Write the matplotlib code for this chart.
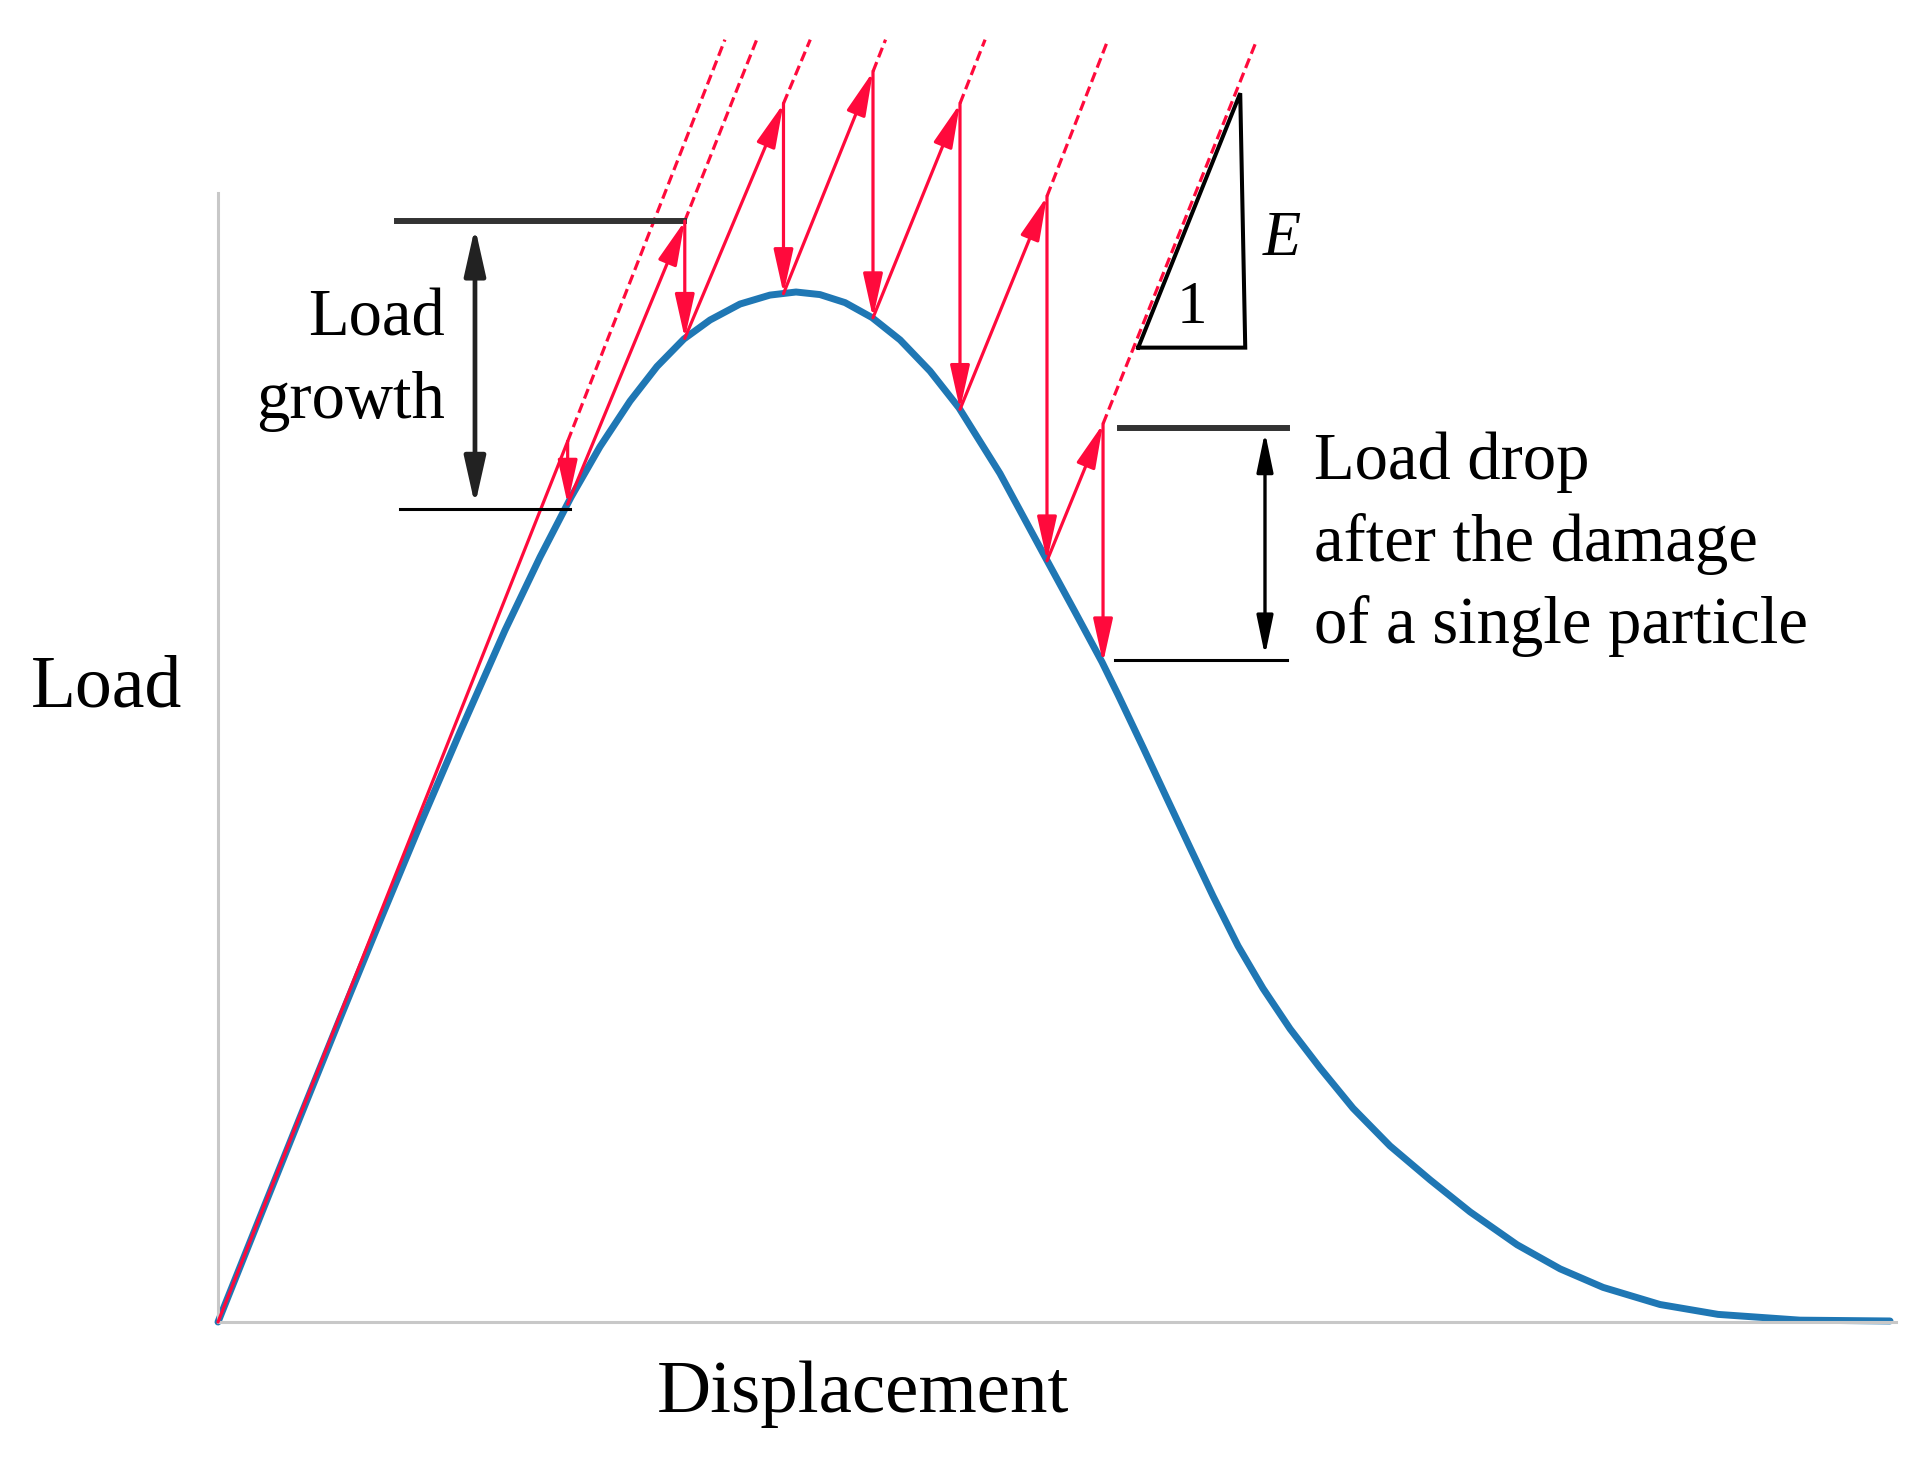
import matplotlib
matplotlib.use("Agg")
import matplotlib.pyplot as plt
from matplotlib.patches import FancyArrowPatch

# ---------------- data (arbitrary units) ----------------
# blue load-displacement curve
curve_disp = [0.00, 2.51, 4.90, 7.29, 9.68, 12.07, 14.47, 17.15, 19.25, 21.10,
              22.83, 24.63, 26.24, 27.85, 29.41, 31.20, 32.99, 34.55, 35.98, 37.48,
              39.09, 40.77, 42.56, 44.29, 46.74, 49.49, 51.23, 52.84, 53.80, 55.29,
              56.72, 58.10, 59.47, 60.97, 62.46, 64.08, 65.87, 67.84, 70.05, 72.45,
              74.84, 77.65, 80.22, 82.79, 86.19, 89.66, 94.56, 99.94]
curve_load = [0.00, 10.19, 19.86, 29.46, 38.93, 48.25, 57.30, 67.14, 74.27, 80.08,
              84.98, 89.41, 92.77, 95.44, 97.28, 98.83, 99.70, 100.00, 99.75, 98.97,
              97.52, 95.35, 92.32, 88.75, 82.38, 74.12, 68.93, 64.07, 60.89, 55.80,
              50.83, 46.06, 41.37, 36.51, 32.39, 28.46, 24.67, 20.76, 17.10, 13.80,
              10.69, 7.50, 5.16, 3.36, 1.70, 0.74, 0.18, 0.10]

# red saw-tooth path (elastic loading + load drops)
saw_disp = [0.0, 20.9, 20.9, 27.9, 27.9, 33.8, 33.8, 39.15, 39.15, 44.35, 44.35,
            49.55, 49.55, 52.9, 52.9]
saw_load = [0.0, 85.5, 79.4, 106.9, 95.5, 118.3, 99.85, 121.4, 97.5, 118.3, 88.6,
            109.3, 73.9, 87.2, 64.0]

# dashed elastic extensions: end points at the top
ext_end_disp = [30.3, 32.2, 35.4, 39.9, 45.85, 53.2, 62.1]
ext_end_load = [124.5, 124.5, 124.5, 124.5, 124.5, 124.5, 124.5]

# "Load growth" marker
growth_top = 106.9
growth_bottom = 78.9
growth_arrow_x = 15.36
# "Load drop" marker
drop_top = 86.8
drop_bottom = 64.3
drop_arrow_x = 62.58

# slope triangle
tri_disp = [55.0, 61.1, 61.4, 55.0]
tri_load = [94.6, 119.3, 94.6, 94.6]

RED = "#ff0a3c"
BLUE = "#1f77b4"

fig = plt.figure(figsize=(19.25, 14.59), dpi=100)
ax = fig.add_axes([0, 0, 1, 1])
ax.set_xlim(-13.03, 102.03)
ax.set_ylim(-13.30, 128.35)
ax.set_xticks([])
ax.set_yticks([])
for s in ["top", "right"]:
    ax.spines[s].set_visible(False)
for s in ["left", "bottom"]:
    ax.spines[s].set_position(("data", 0))
    ax.spines[s].set_color("#c8c8c8")
    ax.spines[s].set_linewidth(2.2)
ax.spines["left"].set_bounds(0, 109.6)
ax.spines["bottom"].set_bounds(0, 100.3)
ax.patch.set_alpha(0)

serif = "Liberation Serif"
TS = 48

# blue curve
ax.plot(curve_disp, curve_load, color=BLUE, lw=5, solid_joinstyle="round",
        solid_capstyle="round", zorder=2)

# dashed extensions from each peak of the saw-tooth
peaks = list(range(1, len(saw_disp), 2))
for k, i in enumerate(peaks):
    ax.plot([saw_disp[i], ext_end_disp[k]], [saw_load[i], ext_end_load[k]],
            color=RED, lw=2.3, linestyle=(0, (3.2, 1.6)), zorder=3)

# first loading branch (no arrow head)
ax.plot(saw_disp[:2], saw_load[:2], color=RED, lw=2.3, zorder=3,
        solid_capstyle="round")
# remaining segments with arrow heads
for i in range(1, len(saw_disp) - 1):
    a = FancyArrowPatch((saw_disp[i], saw_load[i]), (saw_disp[i + 1], saw_load[i + 1]),
                        arrowstyle="-|>,head_length=27,head_width=6",
                        mutation_scale=1, lw=2.3, color=RED,
                        shrinkA=0, shrinkB=0, zorder=4)
    ax.add_patch(a)

# Load growth marker
ax.plot([10.7, 27.85], [growth_top, growth_top], color="#333333", lw=4.3, zorder=3)
ax.plot([10.88, 21.04], [growth_bottom, growth_bottom], color="black", lw=2.2, zorder=3)
ax.add_patch(FancyArrowPatch((growth_arrow_x, growth_bottom + 0.4),
                             (growth_arrow_x, growth_top - 0.6),
                             arrowstyle="<|-|>,head_length=29,head_width=6.5",
                             mutation_scale=1, lw=3.4, color="#222222",
                             shrinkA=0, shrinkB=0, zorder=3))
ax.text(13.57, 95.8, "Load", ha="right", va="baseline", fontsize=TS, family=serif)
ax.text(13.57, 87.8, "growth", ha="right", va="baseline", fontsize=TS, family=serif)

# Load drop marker
ax.plot([53.92, 63.9], [drop_top, drop_top], color="#333333", lw=4.3, zorder=3)
ax.plot([53.62, 63.9], [drop_bottom, drop_bottom], color="black", lw=2.2, zorder=3)
ax.add_patch(FancyArrowPatch((drop_arrow_x, drop_bottom + 0.4),
                             (drop_arrow_x, drop_top - 0.4),
                             arrowstyle="<|-|>,head_length=24,head_width=5",
                             mutation_scale=1, lw=2.4, color="black",
                             shrinkA=0, shrinkB=0, zorder=3))
ax.text(65.51, 81.8, "Load drop", ha="left", va="baseline", fontsize=TS, family=serif)
ax.text(65.51, 73.9, "after the damage", ha="left", va="baseline", fontsize=TS,
        family=serif)
ax.text(65.51, 65.9, "of a single particle", ha="left", va="baseline", fontsize=TS,
        family=serif)

# slope triangle
ax.plot(tri_disp, tri_load, color="black", lw=2.9, zorder=5, solid_joinstyle="miter")
ax.text(58.2, 97.0, "1", ha="center", va="baseline", fontsize=44, family=serif)
ax.text(62.46, 103.6, "E", ha="left", va="baseline", fontsize=45, family=serif,
        style="italic")

# axis labels
ax.text(-11.18, 59.8, "Load", ha="left", va="baseline", fontsize=53, family=serif)
ax.text(38.55, -8.74, "Displacement", ha="center", va="baseline", fontsize=54,
        family=serif)

fig.savefig("out.png", dpi=100, facecolor="white")
